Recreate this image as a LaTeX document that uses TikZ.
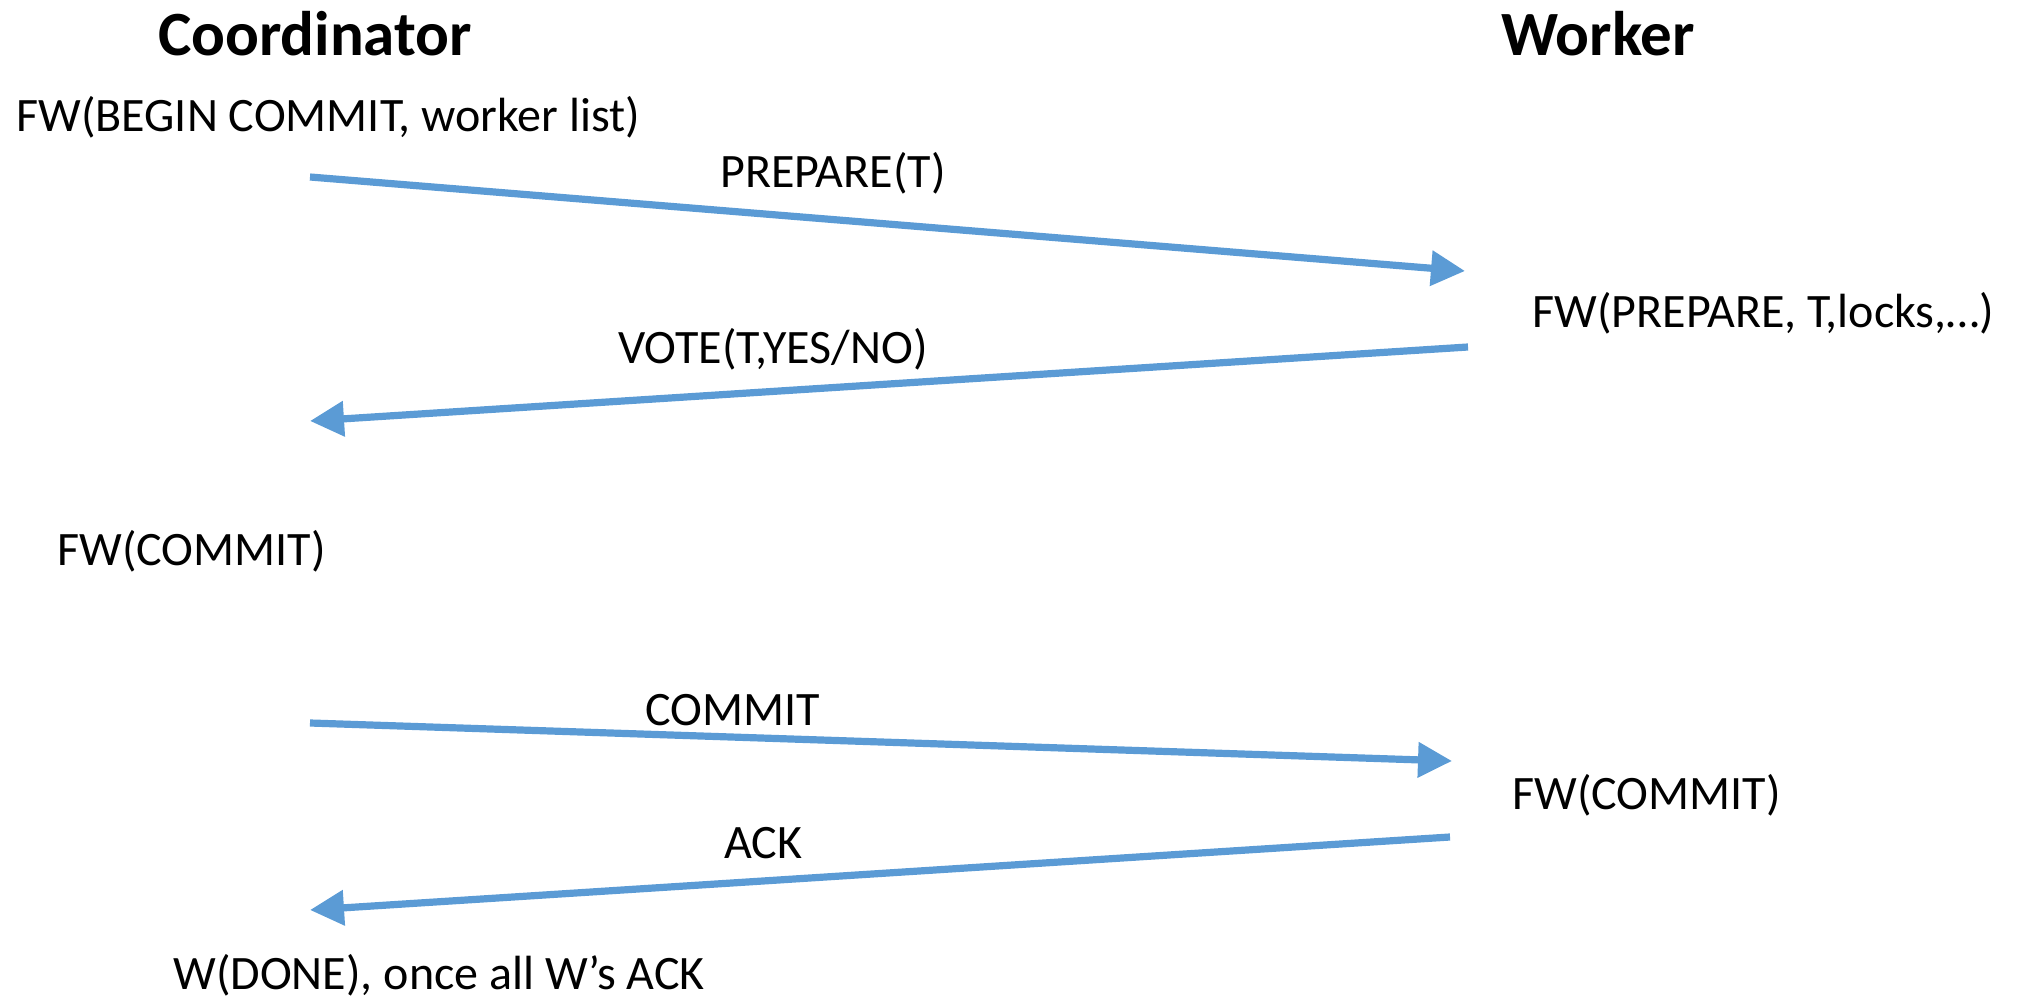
\documentclass[tikz,border=0pt]{standalone}
\usepackage{fontspec}
\setmainfont{Carlito}
\usetikzlibrary{arrows.meta}
\definecolor{msgblue}{HTML}{5B9BD5}
\tikzset{
  msg/.style={draw=msgblue, line width=3.6pt, -{Triangle[length=17pt,width=17pt]}},
  lbl/.style={inner sep=0pt, font=\fontsize{24pt}{29pt}\selectfont},
  head/.style={inner sep=0pt, font=\fontsize{31.5pt}{38pt}\selectfont\bfseries}
}
\begin{document}
\begin{tikzpicture}[x=0.5pt, y=-0.5pt]
\useasboundingbox (0,0) rectangle (2044,999);
\node[head] (coord) at (315,34) {Coordinator};
\node[head] (work) at (1598,34) {Worker};
\node[lbl, anchor=west] (begin) at (16,117) {FW(BEGIN COMMIT, worker list)};
\node[lbl, anchor=west] (prepw) at (1532,313) {FW(PREPARE, T,locks,…)};
\node[lbl, anchor=west] (commc) at (57,551) {FW(COMMIT)};
\node[lbl, anchor=west] (commw) at (1512,795) {FW(COMMIT)};
\node[lbl, anchor=west] (done) at (173,975) {W(DONE), once all W’s ACK};

\coordinate (p1) at (310,177);
\coordinate (p2) at (1465,271);
\coordinate (v1) at (1468,347);
\coordinate (v2) at (310,421);
\coordinate (c1) at (310,723);
\coordinate (c2) at (1452,761);
\coordinate (a1) at (1450,837);
\coordinate (a2) at (310,910);

\draw[msg] (p1) -- (p2);
\draw[msg] (v1) -- (v2);
\draw[msg] (c1) -- (c2);
\draw[msg] (a1) -- (a2);

\node[lbl] (lprep) at (833,173) {PREPARE(T)};
\node[lbl] (lvote) at (773,349) {VOTE(T,YES/NO)};
\node[lbl] (lcomm) at (733,710) {COMMIT};
\node[lbl] (lack) at (763,843) {ACK};
\end{tikzpicture}
\end{document}
